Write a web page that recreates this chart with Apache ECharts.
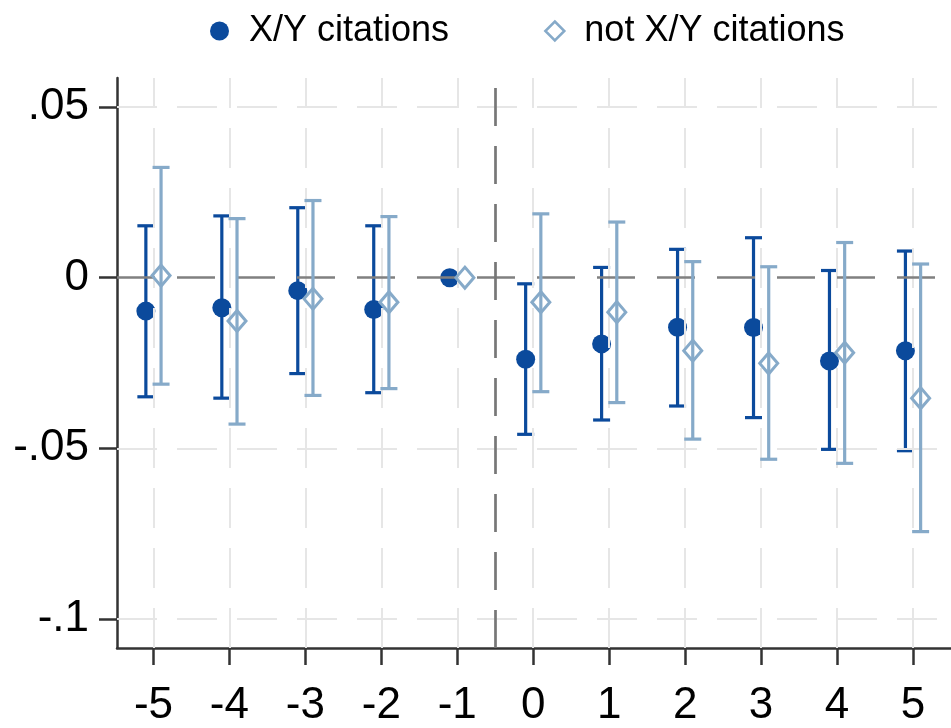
<!DOCTYPE html>
<html>
<head>
<meta charset="utf-8">
<script src="https://cdn.jsdelivr.net/npm/echarts@6/dist/echarts.min.js"></script>
<style>
html,body{margin:0;padding:0;background:#fff;}
#chart{width:951px;height:728px;}
</style>
</head>
<body>
<div id="chart"></div>
<script>
// ---- data ----
var periods = [-5, -4, -3, -2, -1, 0, 1, 2, 3, 4, 5];
var xyEst  = [-0.0098, -0.0088, -0.0038, -0.0093, 0, -0.0239, -0.0194, -0.0145, -0.0146, -0.0244, -0.0214];
var xyLo   = [-0.0349, -0.0353, -0.0281, -0.0337, null, -0.0459, -0.0417, -0.0376, -0.0410, -0.0503, -0.0507];
var xyHi   = [0.0152, 0.0181, 0.0205, 0.0152, null, -0.0018, 0.0030, 0.0083, 0.0117, 0.0021, 0.0078];
var notEst = [0.0006, -0.0127, -0.0062, -0.0072, 0, -0.0072, -0.0101, -0.0214, -0.0251, -0.0220, -0.0353];
var notLo  = [-0.0312, -0.0429, -0.0345, -0.0325, null, -0.0334, -0.0366, -0.0473, -0.0532, -0.0544, -0.0744];
var notHi  = [0.0323, 0.0173, 0.0226, 0.0179, null, 0.0187, 0.0163, 0.0047, 0.0032, 0.0103, 0.0040];
var seriesNames = ['X/Y citations', 'not X/Y citations'];
var xTicks = [-5, -4, -3, -2, -1, 0, 1, 2, 3, 4, 5];
var xTickLabels = ['-5', '-4', '-3', '-2', '-1', '0', '1', '2', '3', '4', '5'];
var yTicks = [-0.1, -0.05, 0, 0.05];
var yTickLabels = ['-.1', '-.05', '0', '.05'];
var refX = -0.5;

// ---- styling ----
var DARK = '#0b4a9c';
var LIGHT = '#86aac9';
var OFF = 0.1;
var FONT = 'Liberation Sans, Arial, sans-serif';

function pts(est, off) {
  return periods.map(function (p, i) { return [p + off, est[i]]; });
}
function bars(lo, hi, off) {
  var out = [];
  periods.forEach(function (p, i) {
    if (lo[i] !== null && hi[i] !== null) out.push([p + off, lo[i], hi[i]]);
  });
  return out;
}
function errRender(color) {
  return function (params, api) {
    var lo = api.coord([api.value(0), api.value(1)]);
    var hi = api.coord([api.value(0), api.value(2)]);
    var hw = 8.5;
    var st = { stroke: color, lineWidth: 3.2, fill: null };
    return {
      type: 'group',
      children: [
        { type: 'line', shape: { x1: lo[0], y1: lo[1], x2: hi[0], y2: hi[1] }, style: st },
        { type: 'line', shape: { x1: lo[0] - hw, y1: lo[1], x2: lo[0] + hw, y2: lo[1] }, style: st },
        { type: 'line', shape: { x1: hi[0] - hw, y1: hi[1], x2: hi[0] + hw, y2: hi[1] }, style: st }
      ]
    };
  };
}
function labelFor(ticks, labels) {
  return function (v) {
    for (var i = 0; i < ticks.length; i++) if (Math.abs(ticks[i] - v) < 1e-9) return labels[i];
    return '';
  };
}

var gridLineStyle = { color: '#e6e6e6', width: 2, type: [40, 20] };
var gridMarks = [];
yTicks.forEach(function (v) { if (v !== 0) gridMarks.push({ yAxis: v, lineStyle: gridLineStyle }); });
xTicks.forEach(function (v) { gridMarks.push({ xAxis: v, lineStyle: gridLineStyle }); });

var chart = echarts.init(document.getElementById('chart'), null, { renderer: 'canvas' });
chart.setOption({
  animation: false,
  backgroundColor: '#fff',
  textStyle: { fontFamily: FONT },
  grid: { left: 117, right: 0, top: 78, bottom: 80, containLabel: false },
  legend: {
    left: 205, top: 8,
    itemWidth: 19, itemHeight: 19, itemGap: 95,
    textStyle: { fontSize: 36, color: '#000', fontFamily: FONT, padding: [0, 0, 0, 15] },
    data: [
      { name: seriesNames[0], icon: 'circle', itemStyle: { color: DARK, borderWidth: 0 } },
      { name: seriesNames[1], icon: 'diamond', itemStyle: { color: 'transparent', borderColor: LIGHT, borderWidth: 2.5 } }
    ]
  },
  xAxis: {
    type: 'value', min: -5.48, max: 5.5,
    axisLine: { show: true, onZero: false, lineStyle: { color: '#333', width: 2.5 } },
    axisTick: { show: true, length: 17, customValues: xTicks, lineStyle: { color: '#333', width: 2.5 } },
    axisLabel: { customValues: xTicks, formatter: labelFor(xTicks, xTickLabels), fontSize: 44, color: '#000', margin: 36, fontFamily: FONT },
    splitLine: { show: false }
  },
  yAxis: {
    type: 'value', min: -0.1085, max: 0.0585,
    axisLine: { show: true, onZero: false, lineStyle: { color: '#333', width: 2.5 } },
    axisTick: { show: true, length: 18, customValues: yTicks, lineStyle: { color: '#333', width: 2.5 } },
    axisLabel: { customValues: yTicks, formatter: labelFor(yTicks, yTickLabels), fontSize: 44, color: '#000', margin: 28, fontFamily: FONT },
    splitLine: { show: false }
  },
  series: [
    {
      name: 'refs', type: 'scatter', data: [], silent: true, z: 1,
      markLine: {
        silent: true, symbol: 'none', label: { show: false }, animation: false,
        data: gridMarks.concat([
          { yAxis: 0, lineStyle: { color: '#808080', width: 2.7, type: [38, 22] } },
          { xAxis: refX, lineStyle: { color: '#777', width: 2.7, type: [38, 20] } }
        ])
      }
    },
    {
      name: seriesNames[0] + ' ci', type: 'custom', renderItem: errRender(DARK),
      data: bars(xyLo, xyHi, -OFF), encode: { x: 0, y: [1, 2] }, z: 3, silent: true
    },
    {
      name: seriesNames[0], type: 'scatter', data: pts(xyEst, -OFF),
      symbol: 'circle', symbolSize: 19, itemStyle: { color: DARK, opacity: 1 }, z: 4
    },
    {
      name: seriesNames[1] + ' ci', type: 'custom', renderItem: errRender(LIGHT),
      data: bars(notLo, notHi, OFF), encode: { x: 0, y: [1, 2] }, z: 5, silent: true
    },
    {
      name: seriesNames[1], type: 'scatter', data: pts(notEst, OFF),
      symbol: 'diamond', symbolSize: [18, 21],
      itemStyle: { color: 'rgba(255,255,255,0)', borderColor: LIGHT, borderWidth: 3, opacity: 1 }, z: 6
    }
  ]
});
</script>
</body>
</html>
